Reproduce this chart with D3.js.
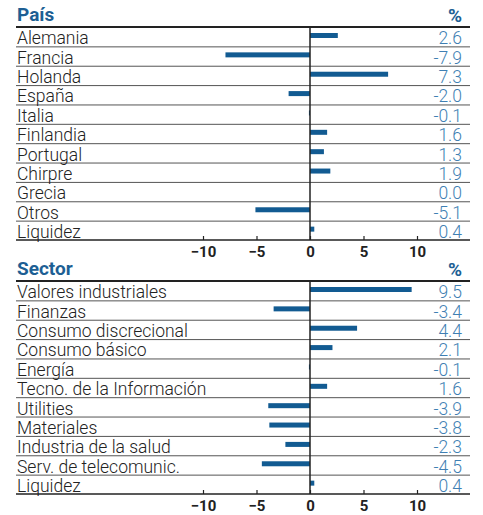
<!DOCTYPE html>
<html>
<head>
<meta charset="utf-8">
<script src="https://cdn.jsdelivr.net/npm/d3@7"></script>
<style>
  body { margin: 0; background: #fff; }
  svg text { font-family: Roboto, "DejaVu Sans", sans-serif; }
</style>
</head>
<body>
<div id="chart"></div>
<script>
// data
var paisCats = ["Alemania", "Francia", "Holanda", "España", "Italia", "Finlandia", "Portugal", "Chirpre", "Grecia", "Otros", "Liquidez"];
var paisVals = [2.6, -7.9, 7.3, -2.0, -0.1, 1.6, 1.3, 1.9, 0.0, -5.1, 0.4];

var sectorCats = ["Valores industriales", "Finanzas", "Consumo discrecional", "Consumo básico", "Energía",
  "Tecno. de la Información", "Utilities", "Materiales", "Industria de la salud", "Serv. de telecomunic.", "Liquidez"];
var sectorVals = [9.5, -3.4, 4.4, 2.1, -0.1, 1.6, -3.9, -3.8, -2.3, -4.5, 0.4];

var tickVals = [-10, -5, 0, 5, 10];

var W = 483, H = 515;
var left = 16, right = 470;

var svg = d3.select("#chart").append("svg")
  .attr("width", W).attr("height", H);

// shared x scale
var x = d3.scaleLinear().domain([-10, 10]).range([203, 417]);

function drawSection(title, cats, vals, top, bottom) {
  var g = svg.append("g");

  var y = d3.scaleBand().domain(cats).range([top, bottom]).padding(0);

  // title + unit
  g.append("text")
    .attr("x", left + 1).attr("y", top - 6)
    .attr("font-size", 19).attr("font-weight", 700)
    .attr("fill", "#1d5f94")
    .text(title);
  g.append("text")
    .attr("x", 462).attr("y", top - 5)
    .attr("text-anchor", "end")
    .attr("font-size", 19).attr("font-weight", 700)
    .attr("fill", "#1d5f94")
    .text("%");

  // row separators
  g.selectAll(".sep")
    .data(cats.slice(0, -1))
    .enter().append("line")
    .attr("x1", left).attr("x2", right)
    .attr("y1", function (d) { return y(d) + y.bandwidth() + 0.5; })
    .attr("y2", function (d) { return y(d) + y.bandwidth() + 0.5; })
    .attr("stroke", "#555").attr("stroke-width", 1);

  // bars
  g.selectAll(".bar")
    .data(vals)
    .enter().append("rect")
    .attr("x", function (d) { return x(Math.min(0, d)); })
    .attr("width", function (d) { return Math.abs(x(d) - x(0)); })
    .attr("y", function (d, i) { return y(cats[i]) + 6; })
    .attr("height", 5)
    .attr("fill", "#125b92");

  // category labels
  g.selectAll(".lab")
    .data(cats)
    .enter().append("text")
    .attr("x", left + 1)
    .attr("y", function (d) { return y(d) + y.bandwidth() - 2; })
    .attr("font-size", 17.5).attr("font-weight", 300)
    .attr("fill", "#222")
    .text(function (d) { return d; });

  // value labels
  g.selectAll(".val")
    .data(vals)
    .enter().append("text")
    .attr("x", 462)
    .attr("y", function (d, i) { return y(cats[i]) + y.bandwidth() - 2; })
    .attr("text-anchor", "end")
    .attr("font-size", 17.5).attr("font-weight", 300)
    .attr("fill", "#3f7fb3")
    .text(function (d) { return d.toFixed(1); });

  // zero line
  g.append("line")
    .attr("x1", x(0)).attr("x2", x(0))
    .attr("y1", top).attr("y2", bottom)
    .attr("stroke", "#222").attr("stroke-width", 1.5);

  // top rule
  g.append("line")
    .attr("x1", left).attr("x2", right)
    .attr("y1", top).attr("y2", top)
    .attr("stroke", "#222").attr("stroke-width", 2);

  // axis at bottom
  var axis = d3.axisBottom(x).tickValues(tickVals).tickSize(-4).tickPadding(6)
    .tickFormat(d3.format("d"));
  var ax = g.append("g")
    .attr("transform", "translate(0," + bottom + ")")
    .call(axis);
  ax.select(".domain").remove();
  ax.selectAll(".tick line").attr("stroke", "#222").attr("stroke-width", 1.2);
  ax.selectAll(".tick text")
    .attr("font-size", 15).attr("font-weight", 700)
    .attr("fill", "#222")
    .attr("font-family", "Roboto, sans-serif");
  g.append("line")
    .attr("x1", left).attr("x2", right)
    .attr("y1", bottom).attr("y2", bottom)
    .attr("stroke", "#222").attr("stroke-width", 1.5);
}

drawSection("País", paisCats, paisVals, 27, 240);
drawSection("Sector", sectorCats, sectorVals, 281, 494);
</script>
</body>
</html>
